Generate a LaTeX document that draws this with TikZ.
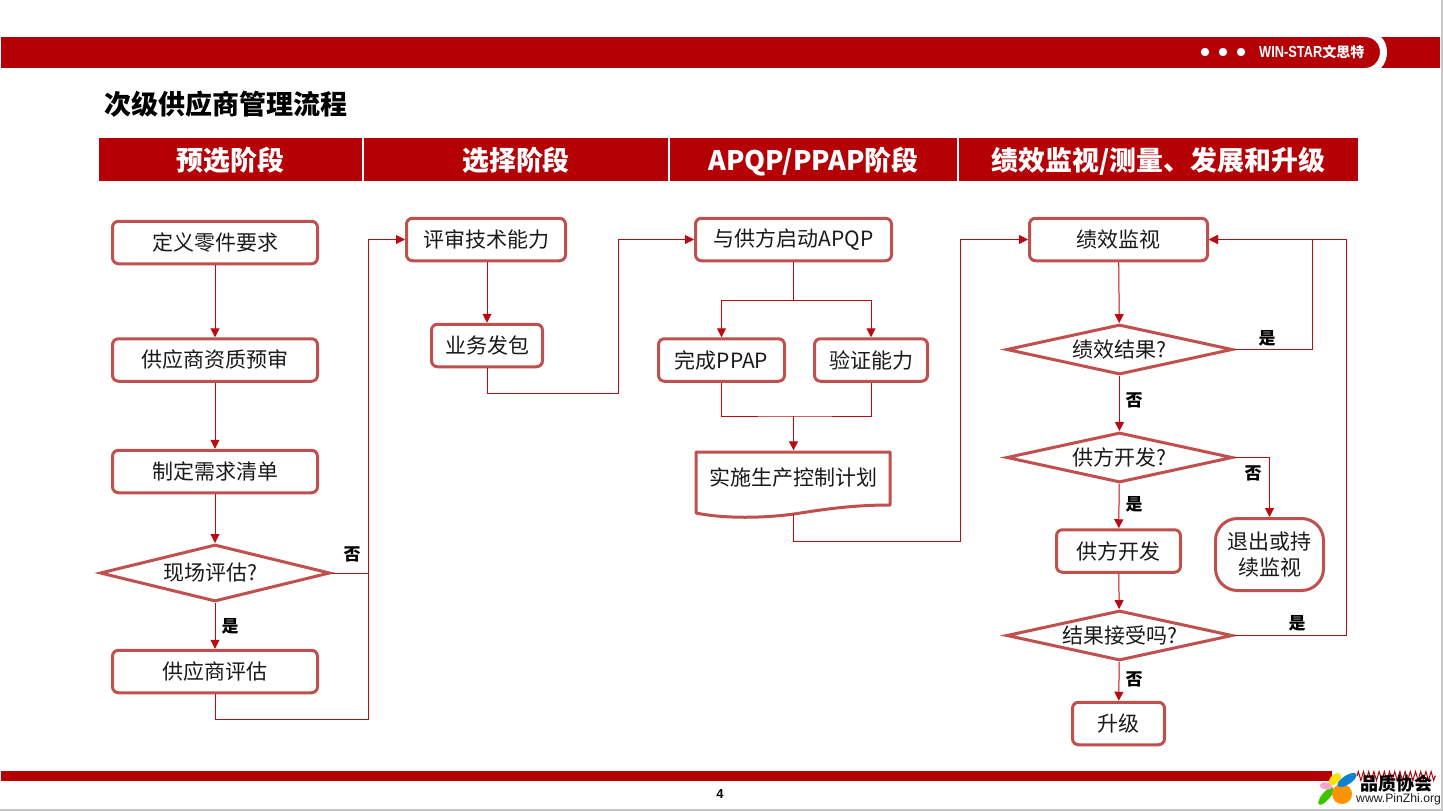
\documentclass[tikz,border=0pt]{standalone}
\usepackage{fontspec}
\setmainfont{Noto Sans CJK SC}
\newfontfamily\latinfont{Liberation Sans}
\usepackage{xcolor}
\usetikzlibrary{shapes.geometric,arrows.meta,positioning,decorations.pathmorphing}
\definecolor{barred}{HTML}{B50005}
\definecolor{boxred}{HTML}{C0504D}
\definecolor{linered}{HTML}{BC0A10}
\definecolor{inkgray}{HTML}{1A1A1A}

\begin{document}
\begin{tikzpicture}[
    x=1pt, y=-1pt,
    flowbox/.style={rectangle, draw=boxred, fill=white, line width=3pt, rounded corners=6pt, minimum width=#1, minimum height=42.5pt, inner sep=0pt, align=center, font=\fontsize{21}{25}\selectfont, text=inkgray},
    flowbox/.default=205pt,
    decide/.style={diamond, draw=boxred, fill=white, line width=3pt, aspect=4, minimum width=226pt, minimum height=#1, inner sep=0pt, font=\fontsize{21}{25}\selectfont, text=inkgray},
    decide/.default=50pt,
    phase/.style={rectangle, fill=barred, text=white, minimum height=43pt, inner sep=0pt, text height=30pt, text depth=8pt, font=\bfseries\fontsize{26.9}{32}\selectfont},
    yesno/.style={font=\bfseries\fontsize{17}{20}\selectfont, text=black, inner sep=0pt},
    arr/.style={-{Triangle[length=9pt,width=9pt]}, line width=1pt, color=linered},
    plain/.style={line width=1pt, color=linered},
  ]
    \useasboundingbox (0,0) rectangle (1443,811);
    \fill[white] (0,0) rectangle (1443,811);
    \draw[gray!45, line width=2pt] (1442,0) -- (1442,810) -- (0,810);

    % Top strip
    \fill[barred] (1,37) rectangle (1440,68);
    \fill[white] (1365,37) -- (1381,37) .. controls (1389,44) and (1389,60) .. (1381,68) -- (1365,68) .. controls (1374,68) and (1380,60) .. (1380,52) .. controls (1380,44) and (1374,37) .. (1365,37);
    \foreach \dotx in {1205,1223,1241}
      \fill[white] (\dotx,52) circle (4.2pt);
    \node[text=white, inner sep=0pt, anchor=west, font=\bfseries\fontsize{16}{18}\selectfont] (brand) at (1259,52) {\latinfont\scalebox{0.8}[1]{WIN-STAR}\normalfont\bfseries\fontsize{14}{18}\selectfont 文思特};

    % Title
    \node[anchor=west, inner sep=0pt, text=black, font=\bfseries\fontsize{27}{32}\selectfont] (title) at (104,104) {次级供应商管理流程};

    % Phase headers
    \node[phase, minimum width=263pt] (ph1) at (230.5,159.5) {预选阶段};
    \node[phase, minimum width=304pt] (ph2) at (516,159.5) {选择阶段};
    \node[phase, minimum width=287pt] (ph3) at (813.5,159.5) {APQP/PPAP阶段};
    \node[phase, minimum width=399pt] (ph4) at (1158.5,159.5) {绩效监视/测量、发展和升级};

    % Phase 1: preselection
    \node[flowbox] (partreq) at (215,242.5) {定义零件要求};
    \node[flowbox] (prequal) at (215,360) {供应商资质预审};
    \node[flowbox] (needlist) at (215,471.5) {制定需求清单};
    \node[decide=57pt, minimum width=230pt] (onsite) at (215,573) {\hspace*{-9pt}现场评估?};
    \node[flowbox] (supeval) at (215,671.5) {供应商评估};
    \coordinate (busa) at (368.5,719);

    % Phase 2: selection
    \node[flowbox=159pt] (techrev) at (486,239.5) {评审技术能力};
    \node[flowbox=111pt] (award) at (487,345.5) {业务发包};
    \coordinate (busb) at (618.5,393);

    % Phase 3: APQP/PPAP
    \node[flowbox=196pt] (kickoff) at (793.5,239.5) {与供方启动APQP};
    \node[flowbox=126pt] (ppap) at (721.5,360) {完成PPAP};
    \node[flowbox=113pt] (verify) at (871,360) {验证能力};
    \coordinate (forka) at (793.5,300);
    \coordinate (joina) at (793.5,416);
    \draw[boxred, line width=3pt, fill=white, line join=round] (696,452) -- (890,452) -- (890,505) .. controls (850,505) and (820,510) .. (794,514) .. controls (765,518) and (725,519) .. (696,513) -- cycle;
    \node[inner sep=0pt, minimum width=197pt, minimum height=55pt, font=\fontsize{21}{25}\selectfont, text=inkgray] (ctrlplan) at (793,478) {实施生产控制计划};
    \coordinate (planout) at (793.5,514);
    \coordinate (busc) at (960.5,541);

    % Phase 4: monitoring
    \node[flowbox=178pt] (monitor) at (1118.5,239.5) {绩效监视};
    \node[decide] (result) at (1119.5,349.5) {绩效结果?};
    \node[decide] (develop) at (1119.5,457.5) {供方开发?};
    \node[flowbox=124pt] (supdev) at (1118.5,551) {供方开发};
    \node[decide] (accept) at (1119.5,635.5) {结果接受吗?};
    \node[flowbox=92pt] (escalate) at (1118.5,723.5) {升级};
    \node[flowbox=108pt, minimum height=72pt, rounded corners=22pt, font=\fontsize{21}{26}\selectfont] (exitmon) at (1269.5,554.5) {退出或持\\续监视};
    \coordinate (loopa) at (1312.5,300);
    \coordinate (loopb) at (1346.5,300);

    % Arrows
    \draw[arr] (partreq) -- (prequal);
    \draw[arr] (prequal) -- (needlist);
    \draw[arr] (needlist) -- (onsite);
    \draw[arr] (onsite) -- (supeval);
    \draw[plain] (onsite.east) -- (onsite.east -| busa);
    \draw[arr] (supeval.south) |- (busa) |- (techrev.west);
    \draw[arr] (techrev.south -| award) -- (award);
    \draw[arr] (award.south) |- (busb) |- (kickoff.west);
    \draw[plain] (kickoff.south -| forka) -- (forka);
    \draw[arr] (forka) -| (ppap.north);
    \draw[arr] (forka) -| (verify.north);
    \draw[plain] (ppap.south) |- (joina) -| (verify.south);
    \draw[arr] (joina) -- (ctrlplan.north -| joina);
    \draw[arr] (planout) |- (busc) |- (monitor.west);
    \draw[arr] (monitor) -- (result);
    \draw[arr] (result.east) -| (loopa) |- (monitor.east);
    \draw[arr] (result) -- (develop);
    \draw[arr] (develop) -- (supdev);
    \draw[arr] (develop.east) -| (exitmon.north);
    \draw[arr] (supdev) -- (accept);
    \draw[arr] (accept) -- (escalate);
    \draw[arr] (accept.east) -| (loopb) |- (monitor.east);

    % Branch labels
    \node[yesno] (no1) at (352,554) {否};
    \node[yesno] (yes1) at (230,626) {是};
    \node[yesno] (yes2) at (1267,338) {是};
    \node[yesno] (no2) at (1134,400) {否};
    \node[yesno] (no3) at (1253,473) {否};
    \node[yesno] (yes3) at (1134,504) {是};
    \node[yesno] (yes4) at (1297,623) {是};
    \node[yesno] (no4) at (1134,679) {否};

    % Bottom strip
    \fill[barred] (1,771) rectangle (1332,781);
    \draw[barred, line width=1pt, decorate, decoration={zigzag, segment length=5.2pt, amplitude=4.5pt}] (1357,776) -- (1436,776);
    \node[inner sep=0pt, text=black, font=\latinfont\bfseries\fontsize{13}{15}\selectfont] (pagenum) at (720,794) {4};

    % Watermark
    \fill[green!55!olive, rotate around={50:(1326,796)}] (1326,796) ellipse (11pt and 4pt);
    \fill[pink!85!magenta, rotate around={-10:(1326,786)}] (1326,786) ellipse (6.5pt and 3.5pt);
    \fill[orange!85!yellow] (1342,794) circle (10pt);
    \fill[yellow!85!orange, rotate around={45:(1335,779)}] (1335,779) ellipse (7pt and 4.5pt);
    \fill[cyan!65!blue, rotate around={33:(1347,780)}] (1347,780) ellipse (11pt and 4.5pt);
    \node[inner sep=0pt, anchor=west, text=black, font=\bfseries\fontsize{18}{20}\selectfont] (wmcn) at (1360,784) {品质协会};
    \node[inner sep=0pt, anchor=west, text=inkgray, font=\latinfont\fontsize{12.2}{15}\selectfont] (wmurl) at (1356,799.5) {www.PinZhi.org};
\end{tikzpicture}
\end{document}
